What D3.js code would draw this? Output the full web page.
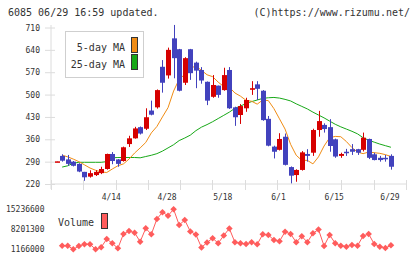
<!DOCTYPE html>
<html>
<head>
<meta charset="utf-8">
<script src="https://cdn.jsdelivr.net/npm/d3@7"></script>
<style>
  body { margin: 0; background: #fff; }
  svg { display: block; }
  text { font-family: "DejaVu Sans Mono", monospace; fill: #333; }
</style>
</head>
<body>
<svg id="chart"></svg>
<script>
// Trading days shown on the chart (2020)
const dates = ["3/31", "4/1", "4/2", "4/3", "4/6", "4/7", "4/8", "4/9", "4/10", "4/13",
  "4/14", "4/15", "4/16", "4/17", "4/20", "4/21", "4/22", "4/23", "4/24", "4/27",
  "4/28", "4/30", "5/1", "5/7", "5/8", "5/11", "5/12", "5/13", "5/14", "5/15",
  "5/18", "5/19", "5/20", "5/21", "5/22", "5/25", "5/26", "5/27", "5/28", "5/29",
  "6/1", "6/2", "6/3", "6/4", "6/5", "6/8", "6/9", "6/10", "6/11", "6/12",
  "6/15", "6/16", "6/17", "6/18", "6/19", "6/22", "6/23", "6/24", "6/25", "6/26",
  "6/29"];

// Daily prices
const opens = [290, 308, 297, 290, 283, 258, 243, 248, 254, 267,
  314, 297, 292, 345, 363, 398, 393, 450, 460, 587,
  560, 676, 642, 537, 642, 600, 577, 540, 493, 528,
  514, 577, 460, 436, 457, 515, 532, 512, 424, 337,
  327, 368, 273, 248, 264, 314, 318, 389, 405, 398,
  360, 308, 321, 329, 329, 327, 361, 313, 302, 302,
  308];
const highs = [291, 313, 311, 292, 285, 258, 263, 263, 274, 315,
  320, 298, 337, 371, 399, 400, 457, 481, 516, 608,
  647, 718, 643, 617, 643, 603, 586, 541, 561, 528,
  584, 586, 462, 470, 490, 542, 542, 514, 433, 340,
  379, 378, 275, 266, 323, 329, 393, 449, 410, 423,
  362, 318, 330, 345, 330, 381, 362, 318, 308, 311,
  313];
const lows = [290, 290, 277, 275, 257, 230, 240, 245, 251, 265,
  282, 274, 290, 336, 362, 375, 389, 435, 456, 506,
  550, 551, 510, 530, 546, 520, 534, 467, 490, 490,
  512, 455, 402, 408, 446, 499, 483, 418, 338, 300,
  325, 278, 222, 227, 262, 290, 308, 368, 381, 321,
  302, 302, 308, 311, 311, 322, 298, 294, 290, 290,
  265];
const closes = [291, 293, 283, 277, 259, 241, 254, 258, 267, 314,
  292, 283, 335, 363, 394, 378, 429, 437, 514, 537,
  640, 614, 512, 614, 567, 575, 544, 481, 530, 499,
  561, 457, 429, 464, 483, 520, 518, 420, 340, 321,
  361, 280, 246, 264, 319, 308, 389, 417, 392, 339,
  306, 314, 319, 321, 318, 365, 302, 295, 295, 300,
  274];

// Moving averages
const ma5 = [null, 310, 305, 298, 290, 280, 270, 263, 258, 256,
  267, 277, 283, 298, 317, 333, 350, 380, 400, 430,
  459, 511, 548, 563, 583, 589, 576, 562, 556, 539,
  525, 523, 505, 495, 482, 479, 470, 483, 481, 456,
  424, 392, 344, 310, 294, 294, 283, 305, 339, 365,
  369, 368, 353, 334, 320, 315, 320, 318, 316, 312,
  306];
const ma25 = [null, 273, 277, 285, 288, 288, 288, 288, 288, 290,
  302, 303, 303, 303, 303, 302, 306, 310, 315, 323,
  333, 343, 356, 364, 373, 387, 398, 406, 415, 425,
  435, 445, 457, 464, 472, 478, 483, 488, 490, 491,
  489, 485, 480, 471, 463, 455, 445, 436, 427, 417,
  407, 399, 392, 385, 377, 365, 357, 351, 345, 340,
  335];

// Daily volume
const volumes = [null, 2430000, 2430000, 1166000, 2330000, 2930000, 2930000, 1170000, 1870000, 4790000,
  3280000, 1520000, 6550000, 7600000, 7000000, 3840000, 8550000, 6440000, 11820000, 14180000,
  12990000, 15236600, 9710000, 11470000, 7430000, 6370000, 1800000, 3560000, 5070000, 3310000,
  6020000, 8480000, 3630000, 3280000, 3030000, 3630000, 2920000, 6440000, 6200000, 4440000,
  3980000, 7360000, 6550000, 3630000, 5740000, 3630000, 6790000, 8130000, 2330000, 6200000,
  3280000, 2430000, 2080000, 2680000, 2430000, 5840000, 6550000, 3030000, 2080000, 1620000,
  2570000];

const priceTicks = [220, 290, 360, 430, 500, 570, 640, 710];
const dateLabels = ["4/14", "4/28", "5/18", "6/1", "6/15", "6/29"];

const upColor = "#d60000";
const downColor = "#4242bd";
const ma5Color = "#f08c14";
const ma25Color = "#17a817";
const volColor = "#ff5c5c";
const axisColor = "#dcdcdc";

const width = 420;
const height = 259;

const svg = d3.select("#chart").attr("width", width).attr("height", height);

// Scales
const x = d3.scaleLinear().domain([-1, 62.7]).range([51, 406]);
const y = d3.scaleLinear().domain([220, 710]).range([184, 27.5]);
const gridX = d3.scaleLinear().domain([0, 11]).range([51, 406]);
const volMin = d3.min(volumes);
const volMax = d3.max(volumes);
const yVol = d3.scaleLinear().domain([volMin, volMax]).range([249.3, 209.3]);

// Header
svg.append("text").attr("x", 8).attr("y", 16).style("font-size", "10px")
  .text("6085 06/29 16:59 updated.");
svg.append("text").attr("x", 410).attr("y", 16).attr("text-anchor", "end")
  .style("font-size", "10px").text("(C)https://www.rizumu.net/");

// Price axis
const yAxis = svg.append("g").attr("transform", "translate(51,0)")
  .call(d3.axisLeft(y).tickValues(priceTicks).tickSize(6));
yAxis.select(".domain").remove();
yAxis.selectAll(".tick line").attr("x1", 4).attr("x2", -6).attr("stroke", axisColor);
yAxis.selectAll(".tick text").attr("x", -11).style("font-size", "8px").style("fill", "#333")
  .style("font-family", "DejaVu Sans Mono, monospace");

svg.append("line").attr("x1", 51).attr("x2", 51).attr("y1", 25).attr("y2", 189)
  .attr("stroke", axisColor);
svg.append("line").attr("x1", 51).attr("x2", 406).attr("y1", 184).attr("y2", 184)
  .attr("stroke", axisColor);

// Bottom tick marks
svg.append("g").selectAll("line").data(d3.range(12)).enter().append("line")
  .attr("x1", (d) => Math.round(gridX(d)) + 0.5)
  .attr("x2", (d) => Math.round(gridX(d)) + 0.5)
  .attr("y1", 180).attr("y2", 190)
  .attr("stroke", axisColor);

// Date labels
svg.append("g").selectAll("text").data(dateLabels).enter().append("text")
  .attr("x", (d) => x(dates.indexOf(d)) - 1)
  .attr("y", 200)
  .attr("text-anchor", "middle")
  .style("font-size", "8px")
  .text((d) => d);

// Moving average lines (under the candles)
const maLine = d3.line().defined((d) => d != null).x((d, i) => x(i)).y((d) => y(d));
svg.append("path").datum(ma25).attr("d", maLine).attr("fill", "none")
  .attr("stroke", ma25Color).attr("stroke-width", 1);
svg.append("path").datum(ma5).attr("d", maLine).attr("fill", "none")
  .attr("stroke", ma5Color).attr("stroke-width", 1);

// Candles
const candles = svg.append("g").selectAll("g").data(dates).enter().append("g");
candles.append("line")
  .attr("x1", (d, i) => Math.round(x(i)) + 0.5)
  .attr("x2", (d, i) => Math.round(x(i)) + 0.5)
  .attr("y1", (d, i) => y(highs[i]))
  .attr("y2", (d, i) => y(lows[i]))
  .attr("stroke", (d, i) => (closes[i] >= opens[i] ? upColor : downColor));
candles.append("rect")
  .attr("x", (d, i) => Math.round(x(i)) - 2)
  .attr("width", 5)
  .attr("y", (d, i) => y(Math.max(opens[i], closes[i])))
  .attr("height", (d, i) => Math.max(1.5, Math.abs(y(opens[i]) - y(closes[i]))))
  .attr("fill", (d, i) => (closes[i] >= opens[i] ? upColor : downColor));

// Legend for moving averages
svg.append("rect").attr("x", 65.5).attr("y", 31.5).attr("width", 78).attr("height", 46)
  .attr("fill", "#fff").attr("stroke", "#cfcfcf");
const legendItems = [
  { label: "5-day MA", color: ma5Color },
  { label: "25-day MA", color: ma25Color },
];
legendItems.forEach((item, k) => {
  svg.append("text").attr("x", 125).attr("y", 51 + k * 16.7).attr("text-anchor", "end")
    .style("font-size", "10px").text(item.label);
  svg.append("rect").attr("x", 131.5).attr("y", 37.5 + k * 17).attr("width", 6).attr("height", 15)
    .attr("fill", item.color).attr("stroke", "#333");
});

// Volume panel
svg.append("g").selectAll("text").data([volMin, (volMin + volMax) / 2, volMax]).enter()
  .append("text")
  .attr("x", 44.5)
  .attr("y", (d) => yVol(d))
  .attr("dy", "0.32em")
  .attr("text-anchor", "end")
  .style("font-size", "8px")
  .text((d) => d3.format("d")(d));

svg.append("text").attr("x", 58).attr("y", 225.5).style("font-size", "10px").text("Volume");
svg.append("rect").attr("x", 101.5).attr("y", 213.5).attr("width", 6).attr("height", 15)
  .attr("fill", volColor).attr("stroke", "#333");

const volLine = d3.line().defined((d) => d != null).x((d, i) => x(i)).y((d) => yVol(d));
svg.append("path").datum(volumes).attr("d", volLine).attr("fill", "none")
  .attr("stroke", volColor).attr("stroke-width", 1);

// Diamond markers, keeping each day's index
const volPoints = volumes
  .map((v, i) => ({ i: i, v: v }))
  .filter((d) => d.v != null);
svg.append("g").selectAll("path").data(volPoints).enter().append("path")
  .attr("d", "M0,-3.3L3.3,0L0,3.3L-3.3,0Z")
  .attr("transform", (d) => `translate(${x(d.i)},${yVol(d.v)})`)
  .attr("fill", volColor);
</script>
</body>
</html>
